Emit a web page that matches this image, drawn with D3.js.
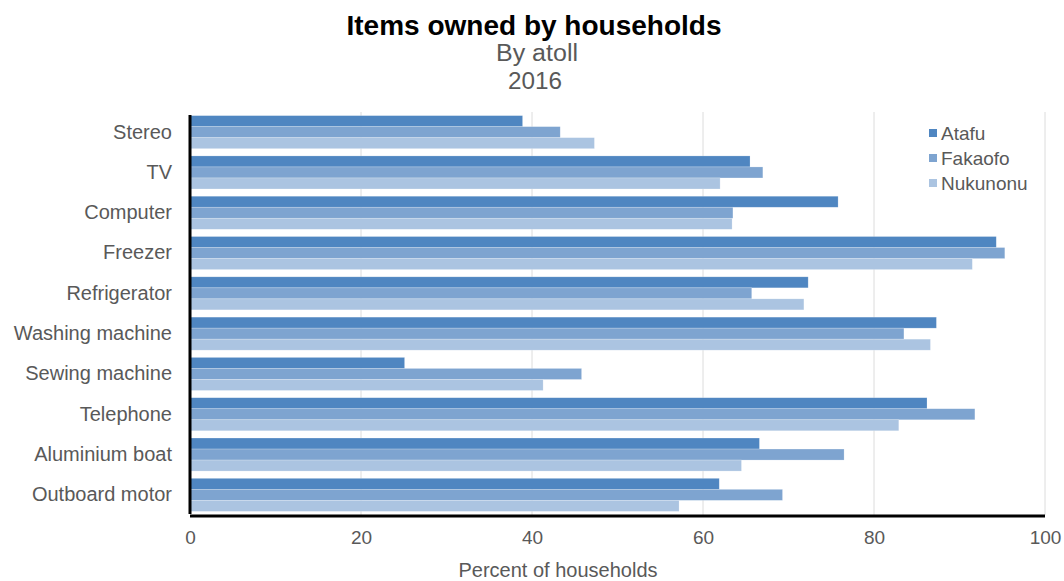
<!DOCTYPE html>
<html>
<head>
<meta charset="utf-8">
<script src="https://cdn.jsdelivr.net/npm/d3@7/dist/d3.min.js"></script>
<style>
  html, body { margin: 0; padding: 0; background: #fff; }
  svg { display: block; font-family: "Liberation Sans", Arial, sans-serif; }
</style>
</head>
<body>
<svg id="chart" width="1064" height="581"></svg>
<script>
const categories = ["Stereo", "TV", "Computer", "Freezer", "Refrigerator", "Washing machine", "Sewing machine", "Telephone", "Aluminium boat", "Outboard motor"];
const seriesNames = ["Atafu", "Fakaofo", "Nukunonu"];
const atafu    = [38.9, 65.5, 75.8, 94.3, 72.3, 87.3, 25.1, 86.2, 66.6, 61.9];
const fakaofo  = [43.3, 67.0, 63.5, 95.3, 65.7, 83.5, 45.8, 91.8, 76.5, 69.3];
const nukunonu = [47.3, 62.0, 63.4, 91.5, 71.8, 86.6, 41.3, 82.9, 64.5, 57.2];
const xTicks = [0, 20, 40, 60, 80, 100];
const colors = ["#4f86c1", "#7ea4d0", "#abc4e1"];

const seriesValues = [atafu, fakaofo, nukunonu];
const svg = d3.select("#chart");

const x = d3.scaleLinear().domain([0, 100]).range([190, 1045]);
const y = d3.scaleBand().domain(categories).range([112, 515]).paddingInner(0.18).paddingOuter(0.09);
const ySub = d3.scaleBand().domain(seriesNames).range([0, y.bandwidth()]);
const color = d3.scaleOrdinal().domain(seriesNames).range(colors);

// gridlines
svg.append("g").selectAll("line").data(xTicks.filter(d => d > 0)).join("line")
  .attr("x1", d => x(d)).attr("x2", d => x(d))
  .attr("y1", 112).attr("y2", 515)
  .attr("stroke", "#dcdcdc").attr("stroke-width", 1);

// bars
const groups = svg.append("g").selectAll("g").data(categories).join("g")
  .attr("transform", d => `translate(0,${y(d)})`);
groups.selectAll("rect")
  .data((c, i) => seriesNames.map((s, j) => ({ s, v: seriesValues[j][i] })))
  .join("rect")
  .attr("x", x(0))
  .attr("y", d => ySub(d.s))
  .attr("width", d => x(d.v) - x(0))
  .attr("height", ySub.bandwidth())
  .attr("fill", d => color(d.s))
  .attr("stroke", "rgba(255,255,255,0.35)")
  .attr("stroke-width", 0.6);

// x axis
const xAxis = svg.append("g").attr("transform", "translate(0,516)")
  .call(d3.axisBottom(x).tickValues(xTicks).tickSize(0).tickPadding(15));
xAxis.select(".domain").attr("stroke", "#000").attr("stroke-width", 3).attr("d", `M${x(0)},0H${x(100)}`);
xAxis.selectAll("text").attr("font-size", 19).attr("fill", "#595959").attr("font-family", "Liberation Sans, Arial, sans-serif");

// y axis
const yAxis = svg.append("g").attr("transform", `translate(${x(0)},0)`)
  .call(d3.axisLeft(y).tickSize(0).tickPadding(18));
yAxis.select(".domain").attr("stroke", "#000").attr("stroke-width", 3).attr("d", "M0,115V514");
yAxis.selectAll("text").attr("font-size", 20).attr("fill", "#595959").attr("font-family", "Liberation Sans, Arial, sans-serif");

// axis title
svg.append("text").attr("x", 558).attr("y", 577).attr("text-anchor", "middle")
  .attr("font-size", 20).attr("fill", "#595959").text("Percent of households");

// titles
svg.append("text").attr("x", 534).attr("y", 35).attr("text-anchor", "middle")
  .attr("font-size", 27).attr("font-weight", "bold").attr("fill", "#000")
  .attr("textLength", 375).attr("lengthAdjust", "spacingAndGlyphs")
  .text("Items owned by households");
svg.append("text").attr("x", 537).attr("y", 61).attr("text-anchor", "middle")
  .attr("font-size", 23).attr("fill", "#595959")
  .attr("textLength", 82).attr("lengthAdjust", "spacingAndGlyphs")
  .text("By atoll");
svg.append("text").attr("x", 535).attr("y", 89).attr("text-anchor", "middle")
  .attr("font-size", 23).attr("fill", "#595959")
  .attr("textLength", 54).attr("lengthAdjust", "spacingAndGlyphs")
  .text("2016");

// legend
const legend = svg.append("g").selectAll("g").data(seriesNames).join("g")
  .attr("transform", (d, i) => `translate(929,${133 + i * 25})`);
legend.append("rect").attr("x", 0).attr("y", -4).attr("width", 8).attr("height", 8)
  .attr("fill", d => color(d));
legend.append("text").attr("x", 12).attr("y", 0).attr("dy", "0.35em")
  .attr("font-size", 19).attr("fill", "#595959").text(d => d);
</script>
</body>
</html>
